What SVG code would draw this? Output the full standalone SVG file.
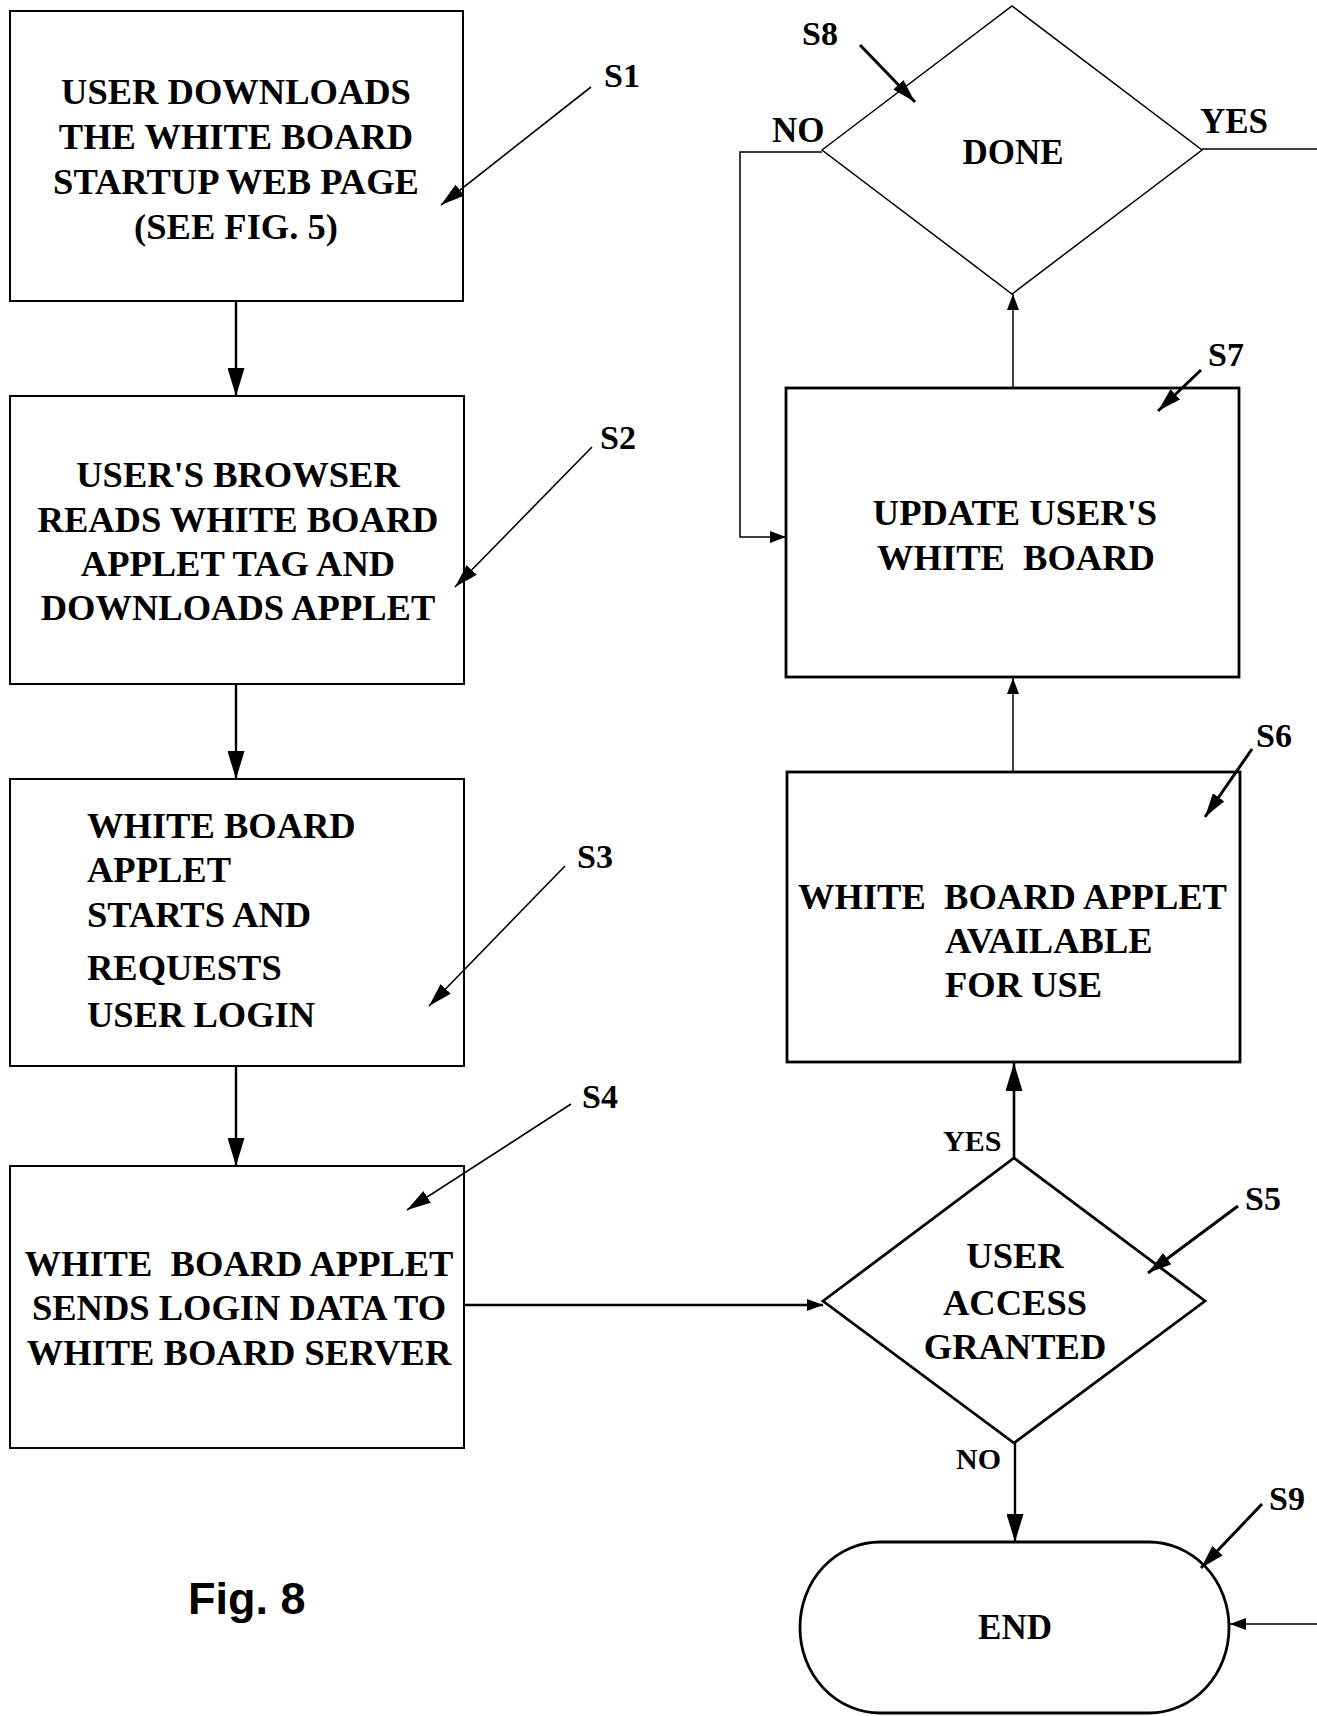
<svg xmlns="http://www.w3.org/2000/svg" width="1317" height="1716" viewBox="0 0 1317 1716">
<style>
.box{fill:#fff;stroke:#000;stroke-width:2}
.boxb{fill:#fff;stroke:#000;stroke-width:2.8}
.t{font-family:"Liberation Serif","Times New Roman",serif;font-weight:bold;font-size:36.5px;fill:#000}
.c{text-anchor:middle}
.lbl{font-family:"Liberation Serif","Times New Roman",serif;font-weight:bold;font-size:34px;fill:#000}
.yn{font-family:"Liberation Serif","Times New Roman",serif;font-weight:bold;font-size:35px;fill:#000}
.yn2{font-family:"Liberation Serif","Times New Roman",serif;font-weight:bold;font-size:30px;fill:#000}
.fig{font-family:"Liberation Sans",Arial,sans-serif;font-weight:bold;font-size:45px;fill:#000}
.ln{fill:none;stroke:#000;stroke-width:2.4}
.lnt{fill:none;stroke:#000;stroke-width:1.5}
.lnb{fill:none;stroke:#000;stroke-width:2.6}
.ld{fill:none;stroke:#000;stroke-width:1.6}
.ldb{fill:none;stroke:#000;stroke-width:3}
</style>
<defs>
<marker id="big" markerWidth="28" markerHeight="17" refX="28" refY="8.5" orient="auto" markerUnits="userSpaceOnUse"><path d="M0,0 L28,8.5 L0,17 z" fill="#000"/></marker>
<marker id="small" markerWidth="16" markerHeight="12" refX="16" refY="6" orient="auto" markerUnits="userSpaceOnUse"><path d="M0,0 L16,6 L0,12 z" fill="#000"/></marker>
<marker id="lead" markerWidth="24" markerHeight="14" refX="24" refY="7" orient="auto" markerUnits="userSpaceOnUse"><path d="M0,0 L24,7 L0,14 z" fill="#000"/></marker>
</defs>

<g id="connectors">
<line class="ln" x1="236" y1="301" x2="236" y2="396" marker-end="url(#big)"/>
<line class="ln" x1="236" y1="684" x2="236" y2="779" marker-end="url(#big)"/>
<line class="ln" x1="236" y1="1066" x2="236" y2="1166" marker-end="url(#big)"/>
<line class="lnb" x1="464" y1="1305" x2="823" y2="1305" marker-end="url(#small)"/>
<line class="lnb" x1="1014" y1="1158" x2="1014" y2="1063" marker-end="url(#big)"/>
<line class="ln" x1="1015" y1="1443" x2="1015" y2="1542" marker-end="url(#big)"/>
<line class="lnt" x1="1013" y1="772" x2="1013" y2="678" marker-end="url(#small)"/>
<line class="lnt" x1="1013" y1="388" x2="1013" y2="294" marker-end="url(#small)"/>
<path class="lnt" d="M822,152 H740 V537 H786" marker-end="url(#small)"/>
<path class="lnt" d="M1202,149 H1345 V1624 H1230" marker-end="url(#small)"/>
</g>

<g id="S1">
<rect class="box" x="10" y="11" width="453" height="290"/>
<text class="t c" x="236" y="104">USER DOWNLOADS</text>
<text class="t c" x="236" y="149">THE WHITE BOARD</text>
<text class="t c" x="236" y="194">STARTUP WEB PAGE</text>
<text class="t c" x="236" y="239">(SEE FIG. 5)</text>
</g>
<g id="S1-label">
<text class="lbl" x="604" y="87">S1</text>
<line class="ld" x1="591" y1="87" x2="441" y2="205" marker-end="url(#lead)"/>
</g>

<g id="S2">
<rect class="box" x="10" y="396" width="454" height="288"/>
<text class="t c" x="238" y="487">USER'S BROWSER</text>
<text class="t c" x="238" y="532">READS WHITE BOARD</text>
<text class="t c" x="238" y="576">APPLET TAG AND</text>
<text class="t c" x="238" y="620">DOWNLOADS APPLET</text>
</g>
<g id="S2-label">
<text class="lbl" x="600" y="449">S2</text>
<line class="ld" x1="592" y1="447" x2="455" y2="587" marker-end="url(#lead)"/>
</g>

<g id="S3">
<rect class="box" x="10" y="779" width="454" height="287"/>
<text class="t" x="87" y="838">WHITE BOARD</text>
<text class="t" x="87" y="882">APPLET</text>
<text class="t" x="87" y="927">STARTS AND</text>
<text class="t" x="87" y="980">REQUESTS</text>
<text class="t" x="87" y="1027">USER LOGIN</text>
</g>
<g id="S3-label">
<text class="lbl" x="577" y="868">S3</text>
<line class="ld" x1="565" y1="866" x2="429" y2="1006" marker-end="url(#lead)"/>
</g>

<g id="S4">
<rect class="box" x="10" y="1166" width="454" height="282"/>
<text class="t c" x="239" y="1276" xml:space="preserve">WHITE  BOARD APPLET</text>
<text class="t c" x="239" y="1320">SENDS LOGIN DATA TO</text>
<text class="t c" x="239" y="1365">WHITE BOARD SERVER</text>
</g>
<g id="S4-label">
<text class="lbl" x="582" y="1108">S4</text>
<line class="ld" x1="571" y1="1104" x2="407" y2="1210" marker-end="url(#lead)"/>
</g>

<g id="S5">
<polygon class="boxb" points="823,1301 1014,1158 1205,1301 1014,1443"/>
<text class="t c" x="1015" y="1268">USER</text>
<text class="t c" x="1015" y="1315">ACCESS</text>
<text class="t c" x="1015" y="1359">GRANTED</text>
<text class="yn2" x="943" y="1151">YES</text>
<text class="yn2" x="956" y="1469">NO</text>
</g>
<g id="S5-label">
<text class="lbl" x="1245" y="1210">S5</text>
<line class="ldb" x1="1238" y1="1206" x2="1148" y2="1273" marker-end="url(#lead)"/>
</g>

<g id="S6">
<rect class="boxb" x="787" y="772" width="453" height="290"/>
<text class="t" x="798" y="909" xml:space="preserve">WHITE  BOARD APPLET</text>
<text class="t" x="945" y="953">AVAILABLE</text>
<text class="t" x="945" y="997">FOR USE</text>
</g>
<g id="S6-label">
<text class="lbl" x="1256" y="747">S6</text>
<line class="ldb" x1="1252" y1="749" x2="1205" y2="817" marker-end="url(#lead)"/>
</g>

<g id="S7">
<rect class="boxb" x="786" y="388" width="453" height="289"/>
<text class="t c" x="1015" y="525">UPDATE USER'S</text>
<text class="t c" x="1016" y="570" xml:space="preserve">WHITE  BOARD</text>
</g>
<g id="S7-label">
<text class="lbl" x="1208" y="366">S7</text>
<line class="ldb" x1="1201" y1="370" x2="1158" y2="411" marker-end="url(#lead)"/>
</g>

<g id="S8">
<polygon class="lnt" fill="#fff" points="822,150 1012,6 1202,150 1012,294"/>
<text class="yn c" x="1013" y="164">DONE</text>
<text class="yn" x="772" y="142">NO</text>
<text class="yn" x="1200" y="133">YES</text>
</g>
<g id="S8-label">
<text class="lbl" x="802" y="45">S8</text>
<line class="ldb" x1="860" y1="45" x2="915" y2="102" marker-end="url(#lead)"/>
</g>

<g id="S9">
<rect class="boxb" x="800" y="1542" width="429" height="171" rx="80" ry="85"/>
<text class="yn c" x="1015" y="1639">END</text>
</g>
<g id="S9-label">
<text class="lbl" x="1269" y="1510">S9</text>
<line class="ldb" x1="1262" y1="1504" x2="1201" y2="1568" marker-end="url(#lead)"/>
</g>

<text class="fig" x="188" y="1614">Fig. 8</text>
</svg>
